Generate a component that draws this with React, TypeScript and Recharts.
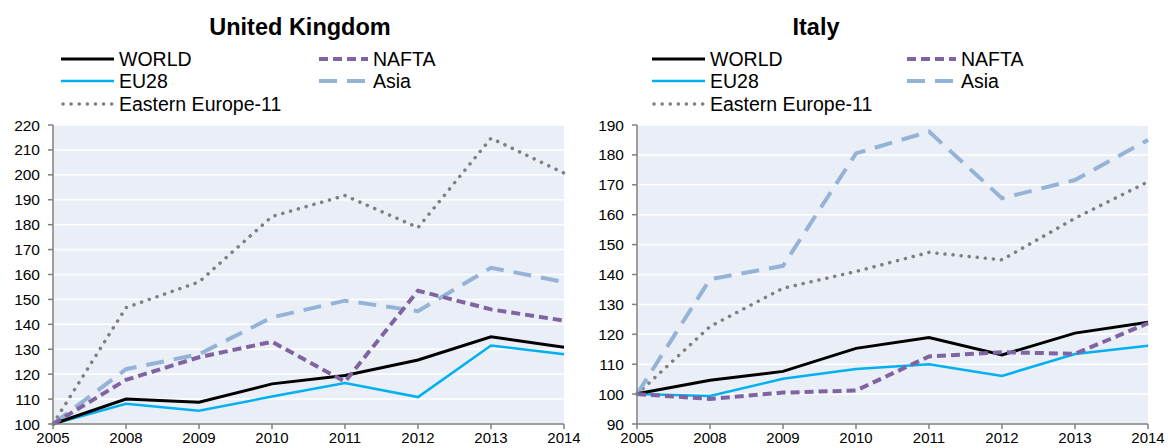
import { LineChart, Line, XAxis, YAxis, CartesianGrid } from "recharts";

const years = ["2005", "2008", "2009", "2010", "2011", "2012", "2013", "2014"];

// United Kingdom
const ukWorld = [100, 110, 108.7, 116.1, 119.5, 125.7, 135, 130.8];
const ukEu28 = [100, 108.1, 105.3, 111, 116.4, 110.8, 131.5, 128];
const ukNafta = [100, 117.7, 126.8, 133, 117, 153.5, 146, 141.5];
const ukAsia = [100, 122, 128, 142.8, 149.5, 145.3, 162.7, 157];
const ukEastEu = [100, 146.7, 157, 183.3, 191.7, 178.8, 214.7, 200.7];
const ukTicks = [100, 110, 120, 130, 140, 150, 160, 170, 180, 190, 200, 210, 220];

// Italy
const itWorld = [100.1, 104.6, 107.6, 115.3, 118.9, 113.1, 120.4, 124];
const itEu28 = [100, 99.4, 105.1, 108.4, 110, 106.1, 113.4, 116.2];
const itNafta = [100, 98.4, 100.5, 101.2, 112.6, 114, 113.5, 123.7];
const itAsia = [100, 138.4, 142.9, 180.5, 187.8, 165.5, 171.6, 185];
const itEastEu = [100, 122.6, 135.4, 141, 147.4, 144.9, 158.8, 171];
const itTicks = [90, 100, 110, 120, 130, 140, 150, 160, 170, 180, 190];

const FONT = "'Liberation Sans', Arial, sans-serif";

// drawing order: last one ends up on top
const series = [
  { key: "eastEu", name: "Eastern Europe-11", color: "#7F7F7F", width: 3.5, dash: "0.1 8", cap: "round" },
  { key: "asia", name: "Asia", color: "#95B3D7", width: 4, dash: "18 10", cap: "butt" },
  { key: "eu28", name: "EU28", color: "#00B0F0", width: 2.5, dash: undefined, cap: "butt" },
  { key: "world", name: "WORLD", color: "#000000", width: 3, dash: undefined, cap: "butt" },
  { key: "nafta", name: "NAFTA", color: "#8064A2", width: 4, dash: "9 5", cap: "butt" },
];

const buildRows = (
  world: number[],
  eu28: number[],
  nafta: number[],
  asia: number[],
  eastEu: number[]
) =>
  years.map((year, i) => ({
    year,
    world: world[i],
    eu28: eu28[i],
    nafta: nafta[i],
    asia: asia[i],
    eastEu: eastEu[i],
  }));

const ukData = buildRows(ukWorld, ukEu28, ukNafta, ukAsia, ukEastEu);
const itData = buildRows(itWorld, itEu28, itNafta, itAsia, itEastEu);

const LegendItem = ({
  s,
  x,
  y,
  iconW,
}: {
  s: (typeof series)[number];
  x: number;
  y: number;
  iconW: number;
}) => (
  <div
    style={{
      position: "absolute",
      left: x,
      top: y - 12,
      height: 24,
      display: "flex",
      alignItems: "center",
      whiteSpace: "nowrap",
    }}
  >
    <svg width={iconW} height={10} style={{ marginRight: 5 }}>
      <line
        x1={s.cap === "round" ? 2 : 0}
        y1={5}
        x2={iconW}
        y2={5}
        stroke={s.color}
        strokeWidth={s.width}
        strokeDasharray={s.dash}
        strokeLinecap={s.cap as any}
      />
    </svg>
    <span style={{ fontSize: 19.5, color: "#000" }}>{s.name}</span>
  </div>
);

const Panel = ({
  title,
  data,
  ticks,
  titleX,
  col1,
  col2,
}: {
  title: string;
  data: ReturnType<typeof buildRows>;
  ticks: number[];
  titleX: number;
  col1: number;
  col2: number;
}) => {
  const rowsY = [59, 81, 104];
  const byKey = (k: string) => series.find((s) => s.key === k)!;
  return (
    <div style={{ position: "relative", width: 584, height: 448, fontFamily: FONT, overflow: "hidden" }}>
      <div
        style={{
          position: "absolute",
          left: titleX - 150,
          width: 300,
          top: 14,
          textAlign: "center",
          fontWeight: "bold",
          fontSize: 23.5,
        }}
      >
        {title}
      </div>
      <LegendItem s={byKey("world")} x={col1} y={rowsY[0]} iconW={53} />
      <LegendItem s={byKey("eu28")} x={col1} y={rowsY[1]} iconW={53} />
      <LegendItem s={byKey("eastEu")} x={col1} y={rowsY[2]} iconW={53} />
      <LegendItem s={byKey("nafta")} x={col2} y={rowsY[0]} iconW={49} />
      <LegendItem s={byKey("asia")} x={col2} y={rowsY[1]} iconW={49} />
      <div style={{ position: "absolute", left: 0, top: 0 }}>
        <LineChart
          width={584}
          height={448}
          data={data}
          margin={{ top: 125, right: 20, bottom: 0, left: 0 }}
        >
          <CartesianGrid
            vertical={false}
            stroke="#ffffff"
            strokeWidth={1.5}
            fill="#EAEFF7"
          />
          <XAxis
            dataKey="year"
            height={24}
            interval={0}
            axisLine={{ stroke: "#808080", strokeWidth: 1.5 }}
            tickLine={{ stroke: "#808080", strokeWidth: 1.5 }}
            tickSize={5}
            tickMargin={3}
            tick={{ fill: "#000", fontSize: 15, fontFamily: FONT }}
          />
          <YAxis
            width={53}
            domain={[ticks[0], ticks[ticks.length - 1]]}
            ticks={ticks}
            interval={0}
            axisLine={{ stroke: "#808080", strokeWidth: 1.5 }}
            tickLine={{ stroke: "#808080", strokeWidth: 1.5 }}
            tickSize={5}
            tickMargin={8}
            tick={{ fill: "#000", fontSize: 15.5, fontFamily: FONT }}
          />
          {series.map((s) => (
            <Line
              key={s.key}
              dataKey={s.key}
              name={s.name}
              type="linear"
              stroke={s.color}
              strokeWidth={s.width}
              strokeDasharray={s.dash}
              strokeLinecap={s.cap as any}
              dot={false}
              activeDot={false}
              isAnimationActive={false}
            />
          ))}
        </LineChart>
      </div>
    </div>
  );
};

export default function App() {
  return (
    <div style={{ position: "absolute", left: 0, top: 0, display: "flex", background: "#fff" }}>
      <Panel title="United Kingdom" data={ukData} ticks={ukTicks} titleX={300} col1={61} col2={319} />
      <Panel title="Italy" data={itData} ticks={itTicks} titleX={232} col1={68} col2={323} />
    </div>
  );
}
